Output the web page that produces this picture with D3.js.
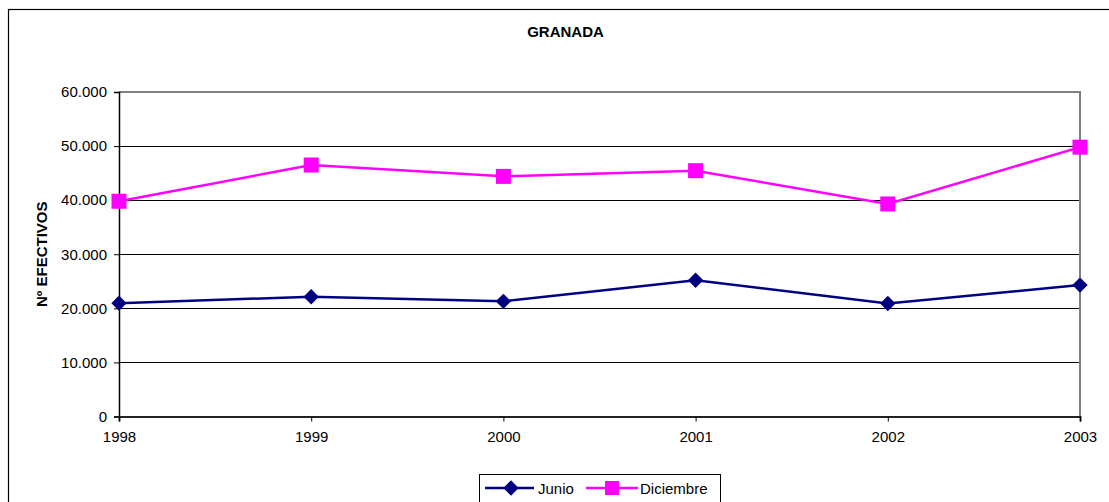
<!DOCTYPE html>
<html>
<head>
<meta charset="utf-8">
<script src="https://cdn.jsdelivr.net/npm/d3@7"></script>
<style>
  body { margin: 0; background: #fff; }
  svg { display: block; font-family: 'Liberation Sans', Arial, sans-serif; }
</style>
</head>
<body>
<script>
  const years = [1998, 1999, 2000, 2001, 2002, 2003];
  const junio = [20950, 22150, 21300, 25200, 20900, 24300];
  const diciembre = [39800, 46500, 44400, 45450, 39300, 49800];
  const yTicks = [0, 10000, 20000, 30000, 40000, 50000, 60000];

  const width = 1109;
  const height = 502;
  const margin = { top: 92, right: 29, bottom: 85.5, left: 119 };
  const fontSize = 15;

  const svg = d3.select('body')
    .append('svg')
    .attr('width', width)
    .attr('height', height);

  // Outer chart border (cropped on the right and bottom)
  svg.append('rect')
    .attr('x', 8.5)
    .attr('y', 9.5)
    .attr('width', width + 20)
    .attr('height', height + 20)
    .attr('fill', 'none')
    .attr('stroke', '#000')
    .attr('stroke-width', 1.2);

  const x = d3.scaleLinear()
    .domain([1998, 2003])
    .range([margin.left, width - margin.right]);

  const y = d3.scaleLinear()
    .domain([0, 60000])
    .range([height - margin.bottom, margin.top]);

  const fmt = d => d === 0 ? '0' : d3.format(',')(d).replace(/,/g, '.');

  // Gridlines
  svg.append('g')
    .selectAll('line')
    .data(yTicks.slice(1, -1))
    .enter()
    .append('line')
    .attr('x1', margin.left)
    .attr('x2', width - margin.right)
    .attr('y1', d => Math.round(y(d)) + 0.5)
    .attr('y2', d => Math.round(y(d)) + 0.5)
    .attr('stroke', '#000')
    .attr('stroke-width', 1);

  // Top and right frame (gray)
  svg.append('path')
    .attr('d', `M${margin.left},${y(60000)}H${x(2003)}V${y(0)}`)
    .attr('fill', 'none')
    .attr('stroke', '#808080')
    .attr('stroke-width', 2);

  // Y axis
  const yAxis = d3.axisLeft(y)
    .tickValues(yTicks)
    .tickFormat(fmt)
    .tickSize(5)
    .tickPadding(7);

  const gy = svg.append('g')
    .attr('transform', `translate(${margin.left}, 0)`)
    .call(yAxis)
    .attr('font-size', fontSize)
    .attr('font-family', "'Liberation Sans', Arial, sans-serif");
  gy.select('.domain').attr('stroke', '#000').attr('stroke-width', 1.5);
  gy.selectAll('text').attr('fill', '#000');

  // X axis
  const xAxis = d3.axisBottom(x)
    .tickValues(years)
    .tickFormat(d3.format('d'))
    .tickSize(5)
    .tickPadding(10);

  const gx = svg.append('g')
    .attr('transform', `translate(0, ${height - margin.bottom})`)
    .call(xAxis)
    .attr('font-size', fontSize)
    .attr('font-family', "'Liberation Sans', Arial, sans-serif");
  gx.select('.domain').attr('stroke', '#222').attr('stroke-width', 2);
  gx.selectAll('text').attr('fill', '#000');

  // Lines
  const line = d3.line()
    .x((d, i) => x(years[i]))
    .y(d => y(d));

  svg.append('path')
    .datum(junio)
    .attr('d', line)
    .attr('fill', 'none')
    .attr('stroke', '#000080')
    .attr('stroke-width', 2.5);

  svg.append('path')
    .datum(diciembre)
    .attr('d', line)
    .attr('fill', 'none')
    .attr('stroke', '#ff00ff')
    .attr('stroke-width', 2.5);

  // Markers
  const diamond = d3.symbol().type(d3.symbolDiamond2).size(150);

  svg.append('g')
    .selectAll('path')
    .data(junio)
    .enter()
    .append('path')
    .attr('d', diamond)
    .attr('transform', (d, i) => `translate(${x(years[i])}, ${y(d)})`)
    .attr('fill', '#000080');

  svg.append('g')
    .selectAll('rect')
    .data(diciembre)
    .enter()
    .append('rect')
    .attr('x', (d, i) => x(years[i]) - 7.5)
    .attr('y', d => y(d) - 7.5)
    .attr('width', 15)
    .attr('height', 15)
    .attr('fill', '#ff00ff');

  // Title
  svg.append('text')
    .attr('x', 565.5)
    .attr('y', 37)
    .attr('text-anchor', 'middle')
    .attr('font-size', fontSize)
    .attr('font-weight', 'bold')
    .text('GRANADA');

  // Y label
  svg.append('text')
    .attr('transform', `translate(47, ${(y(0) + y(60000)) / 2}) rotate(-90)`)
    .attr('text-anchor', 'middle')
    .attr('font-size', fontSize)
    .attr('font-weight', 'bold')
    .text('Nº EFECTIVOS');

  // Legend
  const leg = svg.append('g');

  leg.append('rect')
    .attr('x', 479.5)
    .attr('y', 474.5)
    .attr('width', 241)
    .attr('height', 40)
    .attr('fill', '#fff')
    .attr('stroke', '#000')
    .attr('stroke-width', 1);

  leg.append('line')
    .attr('x1', 485).attr('x2', 534)
    .attr('y1', 488).attr('y2', 488)
    .attr('stroke', '#000080').attr('stroke-width', 2.5);
  leg.append('path')
    .attr('d', diamond)
    .attr('transform', 'translate(511, 488)')
    .attr('fill', '#000080');
  leg.append('text')
    .attr('x', 538).attr('y', 494)
    .attr('font-size', fontSize)
    .text('Junio');

  leg.append('line')
    .attr('x1', 586).attr('x2', 638)
    .attr('y1', 488).attr('y2', 488)
    .attr('stroke', '#ff00ff').attr('stroke-width', 2.5);
  leg.append('rect')
    .attr('x', 605).attr('y', 481)
    .attr('width', 14).attr('height', 14)
    .attr('fill', '#ff00ff');
  leg.append('text')
    .attr('x', 640).attr('y', 494)
    .attr('font-size', fontSize)
    .text('Diciembre');
</script>
</body>
</html>
